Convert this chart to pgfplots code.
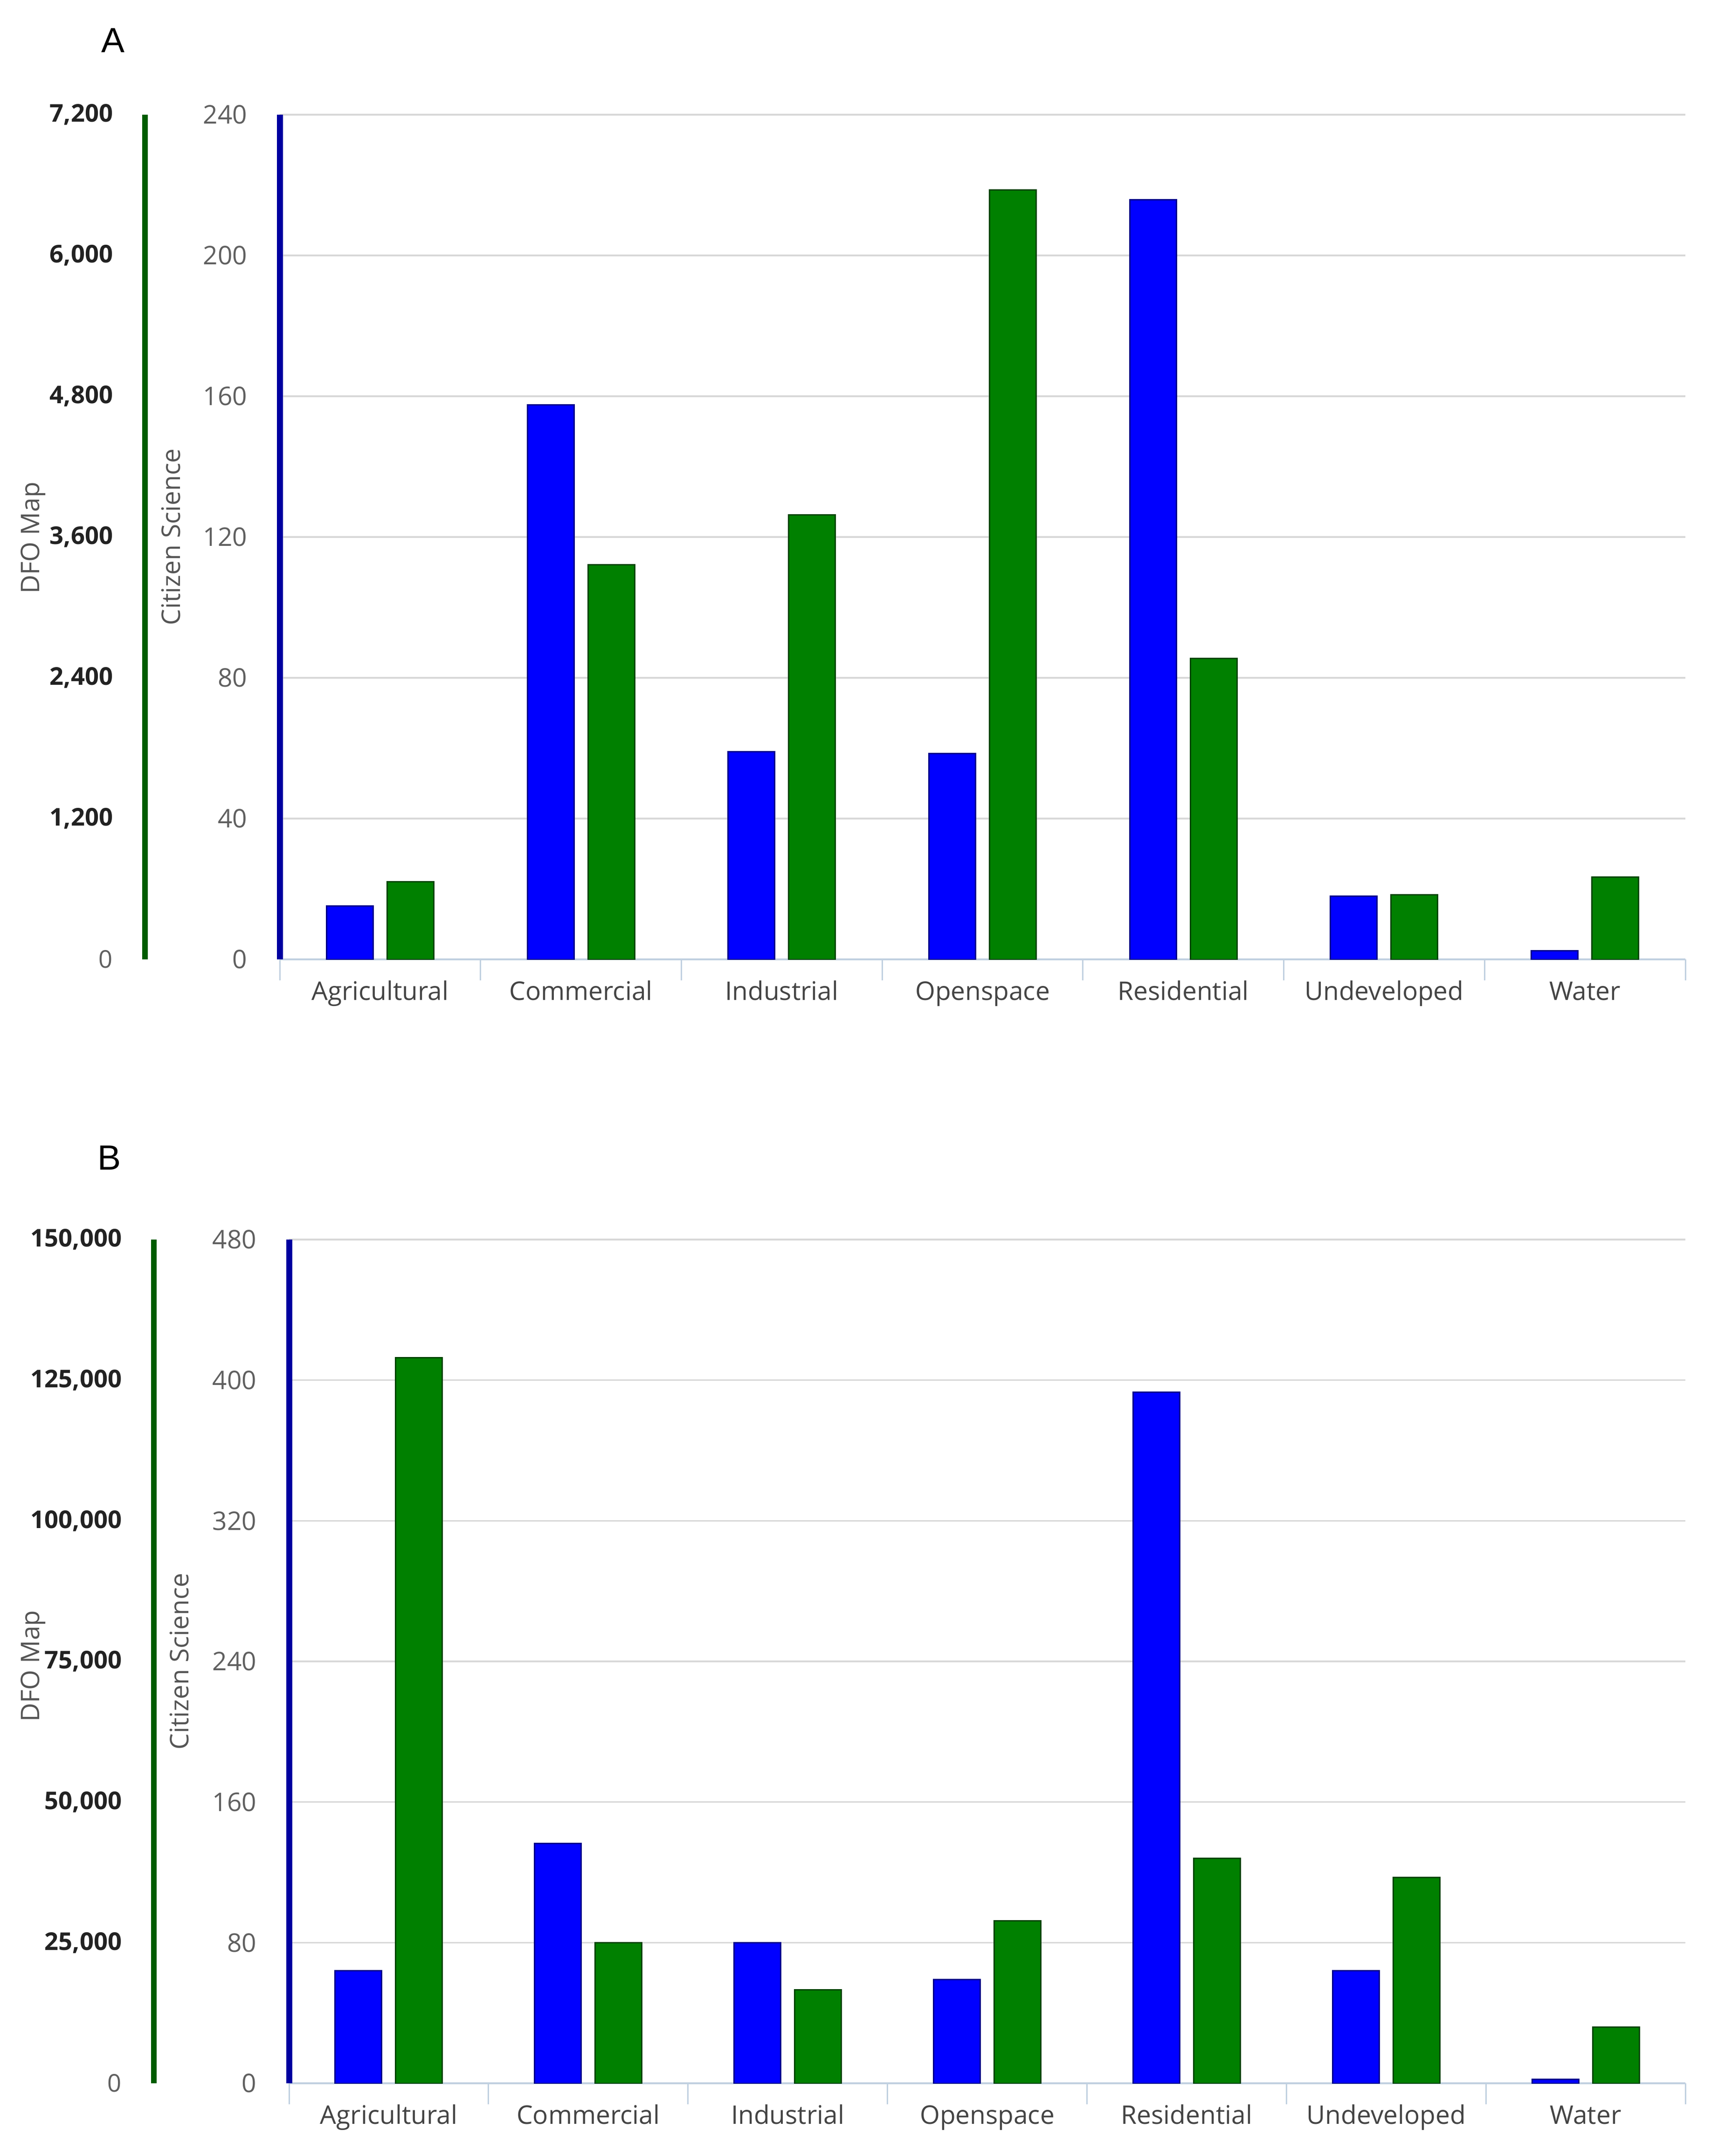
\documentclass[border=0pt]{standalone}
\usepackage{fontspec}
\setmainfont{Open Sans}
\newfontfamily\letterfont{Liberation Sans}
\usepackage{pgfplots}
\pgfplotsset{compat=1.18}

\definecolor{csblue}{HTML}{0000FF}
\definecolor{csedge}{HTML}{00008B}
\definecolor{csaxis}{HTML}{0000A0}
\definecolor{dfogreen}{HTML}{008000}
\definecolor{dfoedge}{HTML}{004400}
\definecolor{dfoaxis}{HTML}{005C00}
\definecolor{gridgray}{HTML}{D8D8D8}
\definecolor{xaxisgray}{HTML}{C0D0E0}
\definecolor{ticktext}{HTML}{606060}
\definecolor{cattext}{HTML}{444444}
\definecolor{boldtext}{HTML}{222222}
\definecolor{titletext}{HTML}{555555}

\newcommand\tickfont{\fontsize{11}{13}\selectfont}

\pgfplotsset{
  citizen/.style={
    scale only axis, ybar, bar width=20pt,
    xmin=-0.5, xmax=6.5, ymin=0,
    enlargelimits=false,
    axis x line*=bottom, axis y line*=left,
    x axis line style={-, draw=xaxisgray, line width=0.8pt},
    y axis line style={-, draw=csaxis, line width=2.6pt},
    xtick={0,...,6},
    xticklabels={Agricultural,Commercial,Industrial,Openspace,Residential,Undeveloped,Water},
    minor xtick={-0.5,0.5,...,6.5},
    xtick align=outside,
    major tick length=0pt, minor tick length=9pt,
    minor tick style={draw=xaxisgray, line width=0.6pt},
    ymajorgrids, major grid style={draw=gridgray, line width=0.7pt},
    xticklabel style={anchor=base, inner sep=0pt, yshift=-17.4pt, font=\tickfont, text=cattext},
    yticklabel style={anchor=east, inner sep=0pt, xshift=-13.8pt, font=\tickfont, text=ticktext},
    /pgf/number format/assume math mode=true,
  },
  dfo/.style={
    scale only axis, ybar, bar width=20pt,
    xmax=6.5, ymin=0,
    enlargelimits=false,
    hide x axis, axis y line*=left,
    scaled y ticks=false,
    y axis line style={-, draw=dfoaxis, line width=2.4pt},
    major tick length=0pt,
    yticklabel style={anchor=east, inner sep=0pt, xshift=-13.6pt,
      font=\fontsize{10.5}{13}\selectfont\bfseries, text=boldtext},
  },
  csbar/.style={fill=csblue, draw=csedge, line width=0.6pt, bar shift=-13pt},
  dfobar/.style={fill=dfogreen, draw=dfoedge, line width=0.6pt, bar shift=13pt},
}

\begin{document}
\begin{tikzpicture}
\path[use as bounding box] (0,0) rectangle (733.8pt,-925pt);

% Panel A
\begin{axis}[citizen, at={(120pt,-411.6pt)}, anchor=south west,
  width=603pt, height=362.4pt, ymax=240, ytick={0,40,...,240}]
\addplot[csbar] coordinates {(0,15.2) (1,157.6) (2,59.0) (3,58.5) (4,215.8) (5,17.9) (6,2.4)};
\end{axis}
\begin{axis}[dfo, at={(62.2pt,-411.6pt)}, anchor=south west,
  width=660.8pt, height=362.4pt, xmin=-1.1710, ymax=7200,
  ytick={0,1200,2400,3600,4800,6000,7200},
  yticklabels={{\mdseries\color{ticktext}0},{1,200},{2,400},{3,600},{4,800},{6,000},{7,200}}]
\addplot[dfobar] coordinates {(0,660) (1,3365) (2,3790) (3,6560) (4,2565) (5,550) (6,700)};
\end{axis}

% Panel B
\begin{axis}[citizen, at={(124pt,-893.8pt)}, anchor=south west,
  width=599pt, height=362pt, ymax=480, ytick={0,80,...,480}]
\addplot[csbar] coordinates {(0,64) (1,136.5) (2,80) (3,58.9) (4,393.2) (5,64) (6,2.3)};
\end{axis}
\begin{axis}[dfo, at={(66pt,-893.8pt)}, anchor=south west,
  width=657pt, height=362pt, xmin=-1.1778, ymax=150000,
  ytick={0,25000,50000,75000,100000,125000,150000},
  yticklabels={{\mdseries\color{ticktext}0},{25,000},{50,000},{75,000},{100,000},{125,000},{150,000}}]
\addplot[dfobar] coordinates {(0,129000) (1,25000) (2,16600) (3,28850) (4,40000) (5,36600) (6,9950)};
\end{axis}

\node[font=\letterfont\fontsize{15}{18}\selectfont] at (48.5pt,-17.4pt) {A};
\node[font=\letterfont\fontsize{15}{18}\selectfont] at (47pt,-496.8pt) {B};
\node[rotate=90, font=\tickfont, text=titletext] at (73.4pt,-230.4pt) {Citizen Science};
\node[rotate=90, font=\tickfont, text=titletext] at (14.2pt,-230.8pt) {DFO Map};
\node[rotate=90, font=\tickfont, text=titletext] at (77pt,-712.8pt) {Citizen Science};
\node[rotate=90, font=\tickfont, text=titletext] at (14.2pt,-714.8pt) {DFO Map};
\end{tikzpicture}
\end{document}
